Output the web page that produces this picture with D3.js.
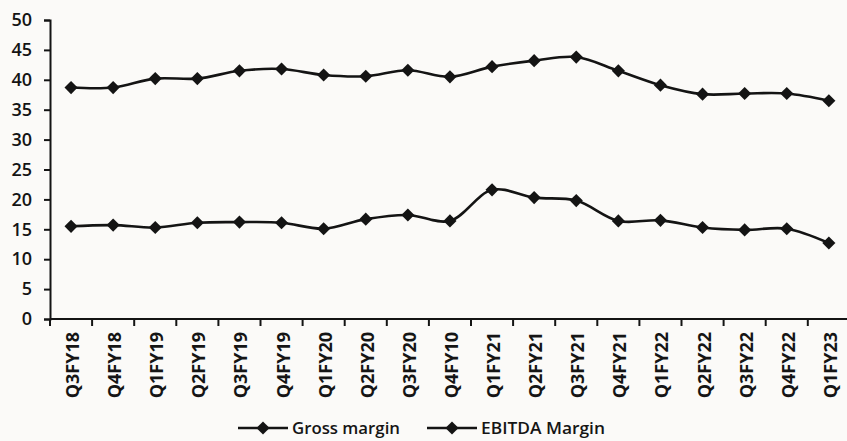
<!DOCTYPE html>
<html>
<head>
<meta charset="utf-8">
<script src="https://cdn.jsdelivr.net/npm/d3@7/dist/d3.min.js"></script>
<style>
  html, body { margin: 0; padding: 0; background: #fbfaf8; }
  svg { display: block; }
  text { font-family: "Open Sans", "DejaVu Sans", sans-serif; fill: #151515; }
</style>
</head>
<body>
<svg id="chart" width="847" height="441"></svg>
<script>
// Quarterly margins (%)
const quarters = ["Q3FY18","Q4FY18","Q1FY19","Q2FY19","Q3FY19","Q4FY19","Q1FY20","Q2FY20","Q3FY20",
                  "Q4FY10","Q1FY21","Q2FY21","Q3FY21","Q4FY21","Q1FY22","Q2FY22","Q3FY22","Q4FY22","Q1FY23"];
const grossMargin  = [38.7, 38.7, 40.2, 40.2, 41.5, 41.8, 40.8, 40.6, 41.6, 40.5, 42.2, 43.2, 43.8, 41.5, 39.1, 37.6, 37.7, 37.7, 36.5];
const ebitdaMargin = [15.5, 15.7, 15.3, 16.1, 16.2, 16.1, 15.1, 16.7, 17.4, 16.4, 21.6, 20.3, 19.8, 16.4, 16.5, 15.3, 14.9, 15.1, 12.7];
const yTicks = [0, 5, 10, 15, 20, 25, 30, 35, 40, 45, 50];
const seriesNames = ["Gross margin", "EBITDA Margin"];

const svg = d3.select("#chart");
const plotLeft = 50, plotTop = 20, plotBottom = 319;
const band = 42.1;

const x = d3.scaleBand().domain(quarters).range([plotLeft, plotLeft + band * quarters.length]);
const y = d3.scaleLinear().domain([0, 50]).range([plotBottom, plotTop]);

const ink = "#141414";

// Y axis
const yAxis = svg.append("g").attr("transform", `translate(${plotLeft},0)`)
  .call(d3.axisLeft(y).tickValues(yTicks).tickSize(6).tickPadding(12));
yAxis.select(".domain").attr("stroke", ink).attr("stroke-width", 2);
yAxis.selectAll(".tick line").attr("stroke", ink).attr("stroke-width", 2);
yAxis.selectAll("text").attr("font-size", 18).attr("font-weight", 600).style("fill", ink);

// X axis: ticks at category boundaries
const xg = svg.append("g").attr("transform", `translate(0,${plotBottom})`);
xg.append("line").attr("x1", plotLeft).attr("x2", plotLeft + band * quarters.length)
  .attr("stroke", ink).attr("stroke-width", 2);
const bounds = quarters.map(q => x(q)).concat([x(quarters[quarters.length - 1]) + x.bandwidth()]);
xg.selectAll("line.tk").data(bounds).join("line").attr("class", "tk")
  .attr("x1", d => d).attr("x2", d => d).attr("y1", 0).attr("y2", 7)
  .attr("stroke", ink).attr("stroke-width", 2);
xg.selectAll("text").data(quarters).join("text")
  .attr("transform", d => `translate(${x(d) + x.bandwidth() / 2 + 8},13) rotate(-90)`)
  .attr("text-anchor", "end")
  .attr("font-family", "'Liberation Sans', Arial, sans-serif")
  .attr("font-size", 18).attr("font-weight", 700)
  .text(d => d);

// Lines and diamond markers
const line = d3.line()
  .x((d, i) => x(quarters[i]) + x.bandwidth() / 2)
  .y(d => y(d))
  .curve(d3.curveCatmullRom.alpha(0.5));
const diamond = d3.symbol().type(d3.symbolDiamond2).size(110);

[grossMargin, ebitdaMargin].forEach(vals => {
  svg.append("path").datum(vals).attr("d", line)
    .attr("fill", "none").attr("stroke", ink).attr("stroke-width", 2.6);
  svg.append("g").selectAll("path").data(vals).join("path")
    .attr("d", diamond)
    .attr("transform", (d, i) => `translate(${x(quarters[i]) + x.bandwidth() / 2},${y(d)})`)
    .attr("fill", ink);
});

// Legend
const legendItems = [
  { name: seriesNames[0], x0: 238, len: 108 },
  { name: seriesNames[1], x0: 427, len: 124 }
];
const lg = svg.append("g").attr("transform", "translate(0,428)");
legendItems.forEach(it => {
  lg.append("line").attr("x1", it.x0).attr("x2", it.x0 + 50).attr("y1", 0).attr("y2", 0)
    .attr("stroke", ink).attr("stroke-width", 2.6);
  lg.append("path").attr("d", diamond).attr("transform", `translate(${it.x0 + 25},0)`).attr("fill", ink);
  lg.append("text").attr("x", it.x0 + 54).attr("y", 6).attr("font-size", 17).attr("font-weight", 600)
    .attr("textLength", it.len).attr("lengthAdjust", "spacingAndGlyphs")
    .text(it.name);
});
</script>
</body>
</html>
